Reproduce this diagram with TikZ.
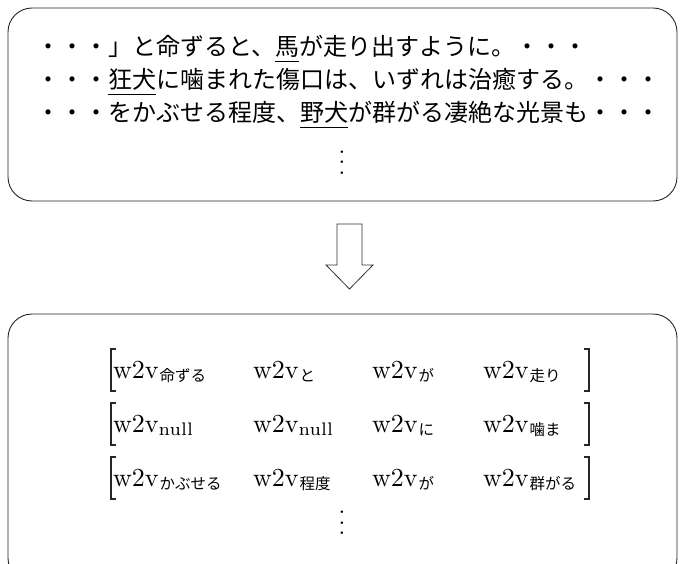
\documentclass[tikz,border=0pt]{standalone}
\usepackage{fontspec}
\newfontfamily\cjk{Noto Sans CJK JP}
\newfontfamily\lmten{lmroman10-regular}[Extension=.otf]
\newfontfamily\lmseven{lmroman7-regular}[Extension=.otf]
\newcommand{\jul}[1]{\leavevmode\setbox0\hbox{#1}\rlap{\rule[-6pt]{\wd0}{0.8pt}}\box0}
\newcommand{\wj}[1]{w2v\kern1pt\raisebox{-3.8pt}{\cjk\fontsize{15.5}{16}\selectfont #1}}
\newcommand{\wn}{w2v\raisebox{-3.9pt}{\lmseven\fontsize{18.2}{19}\selectfont null}}
\tikzset{
  boxline/.style={draw=black!85, line width=0.9pt, rounded corners=24pt, inner sep=0pt},
  jline/.style={anchor=base west, inner sep=0pt, font=\cjk\fontsize{24}{28}\selectfont},
  vec/.style={anchor=base west, inner sep=0pt, font=\lmten\fontsize{26}{30}\selectfont},
  vdotsnode/.style={align=center, inner sep=0pt, font=\lmten\fontsize{24}{10.5}\selectfont},
  brk/.style={draw=black!85, line width=1.1pt},
  blockarrow/.style={draw=black!80, line width=0.8pt, fill=white}
}
\begin{document}
\begin{tikzpicture}[x=1pt,y=-1pt]
\useasboundingbox (0,0) rectangle (680,564);
% boxes
\node[boxline, minimum width=669pt, minimum height=193pt] (src) at (342.5,104.5) {};
\node[boxline, minimum width=669pt, minimum height=268pt] (dst) at (342.5,448) {};
% source text
\node[jline] (l1) at (36,56) {・・・」と命ずると、\jul{馬}が走り出すように。・・・};
\node[jline] (l2) at (36,89) {・・・\jul{狂犬}に噛まれた傷口は、いずれは治癒する。・・・};
\node[jline] (l3) at (36,122) {・・・をかぶせる程度、\jul{野犬}が群がる凄絶な光景も・・・};
\node[vdotsnode] (vd1) at (342,162.5) {.\\.\\.};
% arrow
\draw[blockarrow] (337,224) -- (362,224) -- (362,265) -- (373,265) -- (349.5,289)
  -- (326,265) -- (337,265) -- cycle;
% brackets
\foreach \t/\b in {349/391, 403/445, 457/499} {
  \draw[brk] (116,\t) -- (111,\t) -- (111,\b) -- (116,\b);
  \draw[brk] (584,\t) -- (589,\t) -- (589,\b) -- (584,\b);
}
% vectors
\node[vec] (a1) at (113,378) {\wj{命ずる}};
\node[vec] (a2) at (253,378) {\wj{と}};
\node[vec] (a3) at (372,378) {\wj{が}};
\node[vec] (a4) at (483,378) {\wj{走り}};
\node[vec] (b1) at (113,432) {\wn};
\node[vec] (b2) at (253,432) {\wn};
\node[vec] (b3) at (372,432) {\wj{に}};
\node[vec] (b4) at (483,432) {\wj{噛ま}};
\node[vec] (c1) at (113,486) {\wj{かぶせる}};
\node[vec] (c2) at (253,486) {\wj{程度}};
\node[vec] (c3) at (372,486) {\wj{が}};
\node[vec] (c4) at (483,486) {\wj{群がる}};
\node[vdotsnode] (vd2) at (342,523) {.\\.\\.};
\end{tikzpicture}
\end{document}
